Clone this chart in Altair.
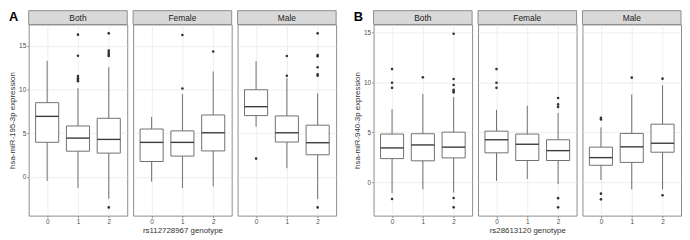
import altair as alt
import pandas as pd

genotypes = [0, 1, 2]
facets = ["Both", "Female", "Male"]

# ---------- Panel A: hsa-miR-195-3p by rs112728967 genotype ----------
a_low = {"Both": [-0.48, -1.28, -2.52], "Female": [-0.55, -1.28, -1.10], "Male": [5.73, 0.98, -2.56]}
a_q1 = {"Both": [3.95, 2.93, 2.71], "Female": [1.75, 2.37, 2.96], "Male": [7.01, 3.98, 2.52]}
a_med = {"Both": [6.92, 4.43, 4.28], "Female": [3.94, 3.94, 5.04], "Male": [8.03, 5.04, 3.90]}
a_q3 = {"Both": [8.49, 5.82, 6.70], "Female": [5.47, 5.26, 7.08], "Male": [9.97, 6.97, 5.91]}
a_high = {"Both": [13.28, 10.14, 12.55], "Female": [6.86, 9.49, 12.05], "Male": [13.25, 11.31, 9.56]}
a_out = {
    "Both": [[], [16.28, 13.87, 11.55, 11.3, 11.1, 10.95], [16.43, 14.45, 14.2, 14.0, 13.85, -3.51]],
    "Female": [[], [16.24, 10.11], [14.35]],
    "Male": [[2.08], [13.83, 11.57], [16.43, 13.94, 13.80, 12.55, 11.75, 11.57, -3.51]],
}

# ---------- Panel B: hsa-miR-940-3p by rs28613120 genotype ----------
b_low = {"Both": [-1.1, -0.73, -1.05], "Female": [0.13, 0.32, -0.19], "Male": [0.22, -0.73, -0.73]}
b_q1 = {"Both": [2.36, 2.14, 2.43], "Female": [2.94, 2.17, 2.17], "Male": [1.69, 1.98, 3.00]}
b_med = {"Both": [3.43, 3.73, 3.51], "Female": [4.25, 3.80, 3.16], "Male": [2.46, 3.54, 3.90]}
b_q3 = {"Both": [4.82, 4.85, 5.01], "Female": [5.11, 4.82, 4.25], "Male": [3.51, 4.88, 5.81]}
b_high = {"Both": [7.31, 8.84, 8.52], "Female": [7.25, 7.66, 6.93], "Male": [5.49, 8.78, 9.71]}
b_out = {
    "Both": [[11.33, 9.96, 9.45, -1.69], [10.50], [14.87, 10.34, 9.73, 9.25, 9.13, 9.0, -1.58, -2.52]],
    "Female": [[11.33, 9.96, 9.45], [], [8.43, 7.79, 7.54, -1.60, -2.52]],
    "Male": [[6.45, 6.29, -1.15, -1.72], [10.47], [10.37, -1.31]],
}

W = 100
H = 194
BORDER = "#8c8c8c"
FONT = "Liberation Sans"


def box_frame(low, q1, med, q3, high):
    rows = []
    for f in facets:
        for i, g in enumerate(genotypes):
            rows.append(dict(facet=f, g=g, low=low[f][i], q1=q1[f][i],
                             med=med[f][i], q3=q3[f][i], high=high[f][i]))
    return pd.DataFrame(rows)


def out_frame(out):
    rows = []
    for f in facets:
        for i, g in enumerate(genotypes):
            for v in out[f][i]:
                rows.append(dict(facet=f, g=g, v=v))
    return pd.DataFrame(rows, columns=["facet", "g", "v"])


def subplot(boxes, outs, facet, ydomain, idx, ytitle, xtitle, letter):
    bd = boxes[boxes.facet == facet]
    od = outs[outs.facet == facet]
    xscale = alt.Scale(domain=[-0.6, 2.6], nice=False, zero=False)
    yscale = alt.Scale(domain=ydomain, nice=False, zero=False)
    xaxis = alt.Axis(values=[0, 1, 2], format="d", title=xtitle if idx == 1 else None,
                     grid=True, domain=False)
    if idx == 0:
        yaxis = alt.Axis(values=[0, 5, 10, 15], title=ytitle, grid=True, domain=False)
    else:
        yaxis = alt.Axis(values=[0, 5, 10, 15], title=None, grid=True, labels=False,
                         ticks=False, domain=False)

    base = alt.Chart(bd).transform_calculate(
        xl="datum.g - 0.375", xr="datum.g + 0.375")

    whisk = base.mark_rule(color="#707070", strokeWidth=1).encode(
        x=alt.X("g:Q", scale=xscale, axis=xaxis),
        y=alt.Y("low:Q", scale=yscale, axis=yaxis),
        y2="high:Q",
    )
    box = base.mark_rect(fill="white", stroke="#707070", strokeWidth=1).encode(
        x="xl:Q", x2="xr:Q", y="q1:Q", y2="q3:Q")
    median = base.mark_rule(color="#3a3a3a", strokeWidth=1.4).encode(
        x="xl:Q", x2="xr:Q", y="med:Q")
    pts = alt.Chart(od).mark_circle(size=7, color="#333333", opacity=1).encode(
        x="g:Q", y="v:Q")

    strip = alt.Chart(pd.DataFrame({"label": [facet]})).mark_rect(
        fill="#d9d9d9", stroke=BORDER, strokeWidth=1).encode(
        x=alt.value(0), x2=alt.value(W), y=alt.value(-14), y2=alt.value(0))
    strip_text = alt.Chart(pd.DataFrame({"label": [facet]})).mark_text(
        fontSize=8.5, font=FONT, color="#1a1a1a", baseline="middle", align="center").encode(
        x=alt.value(W / 2), y=alt.value(-6.5), text="label:N")

    layers = [whisk, box, median, pts, strip, strip_text]
    if letter:
        lt = alt.Chart(pd.DataFrame({"t": [letter]})).mark_text(
            fontSize=13, font=FONT, fontWeight="bold", color="black",
            baseline="top", align="left").encode(
            x=alt.value(-20), y=alt.value(-14), text="t:N")
        layers.append(lt)
    return alt.layer(*layers).properties(width=W, height=H)


boxes_a = box_frame(a_low, a_q1, a_med, a_q3, a_high)
outs_a = out_frame(a_out)
boxes_b = box_frame(b_low, b_q1, b_med, b_q3, b_high)
outs_b = out_frame(b_out)

panel_a = alt.hconcat(*[
    subplot(boxes_a, outs_a, f, [-4.45, 17.45], i, "hsa-miR-195-3p expression",
            "rs112728967 genotype", "A" if i == 0 else None)
    for i, f in enumerate(facets)], spacing=4)
panel_b = alt.hconcat(*[
    subplot(boxes_b, outs_b, f, [-3.35, 15.8], i, "hsa-miR-940-3p expression",
            "rs28613120 genotype", "B" if i == 0 else None)
    for i, f in enumerate(facets)], spacing=4)

chart = alt.hconcat(panel_a, panel_b, spacing=16).properties(
    padding={"left": 0, "top": 0, "right": 0, "bottom": 0}
).configure_view(
    stroke=BORDER, strokeWidth=1
).configure_axis(
    gridColor="#e6e6e6", gridWidth=0.7,
    labelFont=FONT, labelFontSize=6.5, labelColor="#4d4d4d", labelPadding=1,
    tickColor="#8c8c8c", tickSize=2,
    titleFont=FONT, titleFontSize=8, titleFontWeight="normal", titleColor="#333333",
    titlePadding=2,
)

chart.save("out.html", embed_options={"renderer": "svg", "actions": False})
